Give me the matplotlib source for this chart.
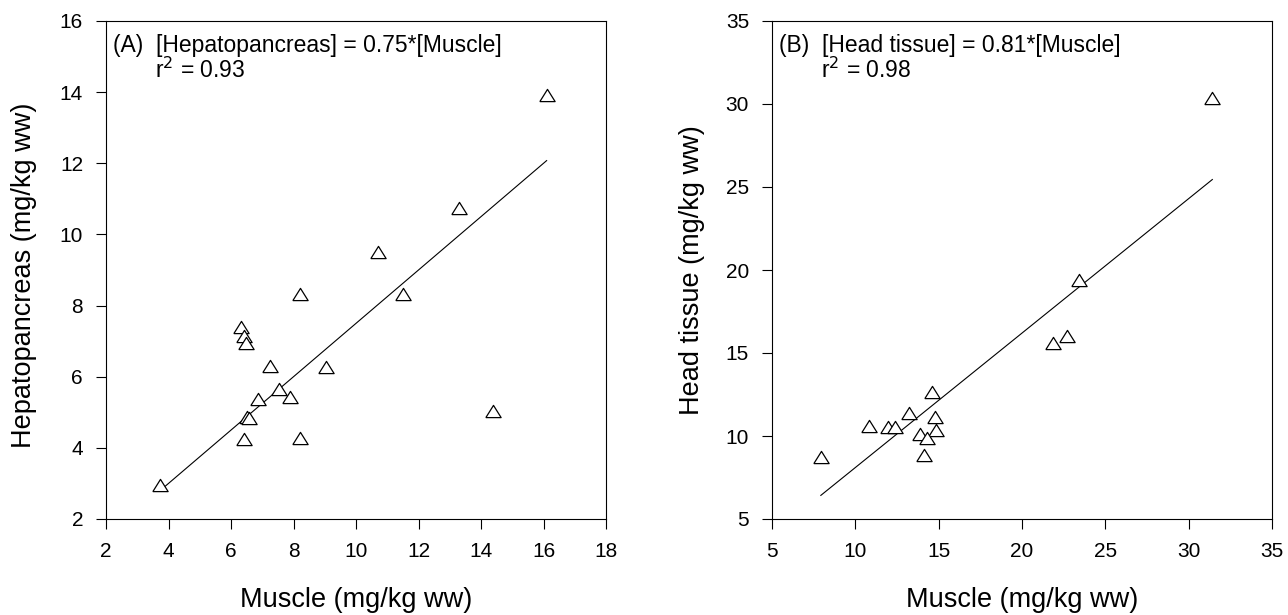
import matplotlib
matplotlib.use('Agg')
import matplotlib.pyplot as plt
import numpy as np

plt.rcParams['font.family'] = ['Liberation Sans', 'DejaVu Sans']

# panel A: muscle vs hepatopancreas
muscle_a = [16.10, 13.28, 10.71, 8.21, 11.50, 6.31, 6.42, 6.47, 7.25, 9.03,
            7.54, 7.88, 6.87, 6.52, 6.56, 6.42, 8.21, 14.39, 3.72]
hepato = [13.93, 10.74, 9.52, 8.32, 8.32, 7.39, 7.14, 6.94, 6.31, 6.27,
          5.66, 5.42, 5.36, 4.88, 4.85, 4.26, 4.29, 5.04, 2.96]
slope_a = 0.75

# panel B: muscle vs head tissue
muscle_b = [31.42, 23.43, 22.69, 21.88, 14.61, 13.19, 14.79, 14.84, 10.81,
            11.98, 12.38, 13.87, 14.30, 14.09, 7.93]
head = [30.39, 19.38, 16.01, 15.58, 12.68, 11.39, 11.14, 10.36, 10.60,
        10.54, 10.54, 10.15, 9.89, 8.84, 8.71]
slope_b = 0.81

# open triangle, a bit flatter than the stock '^'
tri = [(-1, -0.8), (1, -0.8), (0, 0.8), (-1, -0.8)]

fig = plt.figure(figsize=(12.88, 6.15), dpi=100)
ax1 = fig.add_axes([106 / 1288, 96 / 615, 500 / 1288, 498 / 615])
ax2 = fig.add_axes([772 / 1288, 96 / 615, 500 / 1288, 498 / 615])

panels = [
    (ax1, muscle_a, hepato, slope_a, (2, 18), (2, 16), np.arange(2, 19, 2), np.arange(2, 17, 2),
     'Hepatopancreas (mg/kg ww)', '(A)  [Hepatopancreas] = 0.75*[Muscle]', 'r$^2$ = 0.93'),
    (ax2, muscle_b, head, slope_b, (5, 35), (5, 35), np.arange(5, 36, 5), np.arange(5, 36, 5),
     'Head tissue (mg/kg ww)', '(B)  [Head tissue] = 0.81*[Muscle]', 'r$^2$ = 0.98'),
]

for ax, x, y, k, xl, yl, xt, yt, ylab, eq, r2 in panels:
    xs = np.array([min(x), max(x)])
    ax.plot(xs, k * xs, color='black', lw=0.8)
    ax.plot(x, y, linestyle='none', marker=tri, ms=11, mfc='white',
            mec='black', mew=0.9)
    ax.set_xlim(*xl)
    ax.set_ylim(*yl)
    ax.set_xticks(xt)
    ax.set_yticks(yt)
    ax.tick_params(direction='out', length=7, width=0.8, labelsize=15,
                   top=False, right=False, pad=9.5)
    for s in ax.spines.values():
        s.set_linewidth(0.8)
    ax.set_xlabel('Muscle (mg/kg ww)', fontsize=19.5)
    ax.set_ylabel(ylab, fontsize=19.5)
    ax.text(0.014, 0.938, eq, transform=ax.transAxes, fontsize=16.5,
            va='baseline', ha='left')
    ax.text(0.098, 0.886, r2, transform=ax.transAxes, fontsize=16.5,
            va='baseline', ha='left')
    ax.xaxis.set_label_coords(0.5, -0.137)

ax1.yaxis.set_label_coords(-0.138, 0.49)
ax2.yaxis.set_label_coords(-0.134, 0.50)

fig.savefig('out.png', dpi=100)
